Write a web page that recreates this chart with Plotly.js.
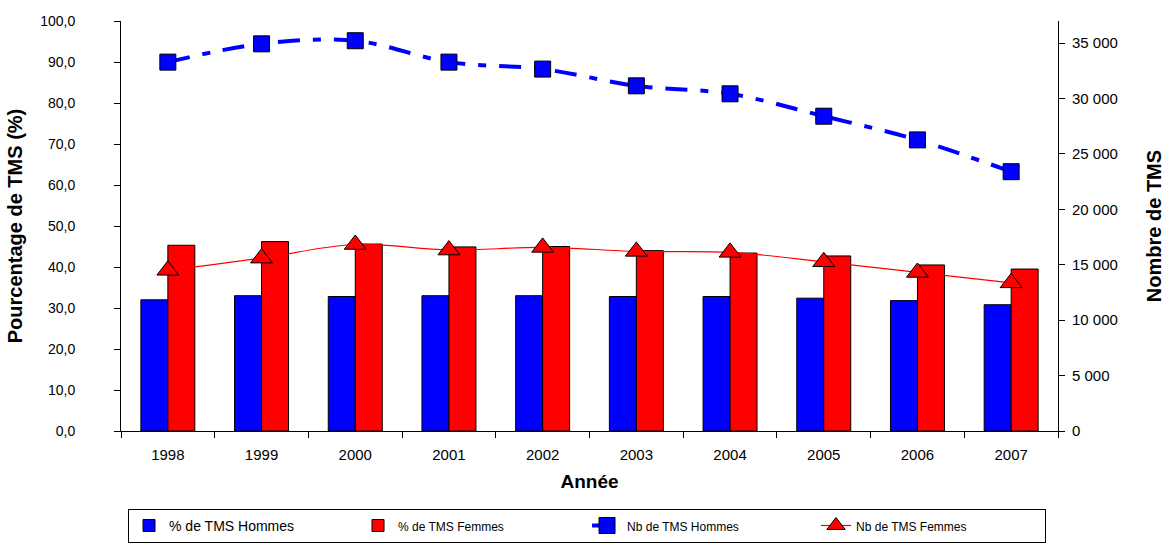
<!DOCTYPE html>
<html>
<head>
<meta charset="utf-8">
<script src="https://cdn.plot.ly/plotly-3.0.1.min.js"></script>
<style>
html,body{margin:0;padding:0;background:#fff;}
#chart{width:1170px;height:545px;}
</style>
</head>
<body>
<div id="chart"></div>
<script>
var years = ['1998','1999','2000','2001','2002','2003','2004','2005','2006','2007'];
var pctHommes = [32.0, 33.0, 32.8, 33.0, 33.0, 32.8, 32.8, 32.4, 31.8, 30.8];
var pctFemmes = [45.3, 46.2, 45.6, 44.9, 45.0, 44.0, 43.4, 42.7, 40.5, 39.5];
var nbHommes = [33290, 34940, 35220, 33290, 32660, 31150, 30430, 28410, 26270, 23400];
var nbFemmes = [14500, 15600, 16830, 16330, 16570, 16210, 16120, 15270, 14310, 13370];

var FONT = 'Liberation Sans, Arial, sans-serif';

var traces = [
  {
    type: 'bar', name: '% de TMS Hommes', x: years, y: pctHommes,
    marker: {color: '#0000FF', line: {color: '#000000', width: 1}},
    yaxis: 'y'
  },
  {
    type: 'bar', name: '<span style="font-size:12px">% de TMS Femmes</span>', x: years, y: pctFemmes,
    marker: {color: '#FF0000', line: {color: '#000000', width: 1}},
    yaxis: 'y'
  },
  {
    type: 'scatter', mode: 'lines+markers', name: '<span style="font-size:12px">Nb de TMS Hommes</span>',
    x: years, y: nbHommes, yaxis: 'y2',
    line: {color: '#0000FF', width: 4, shape: 'spline', smoothing: 1, dash: '22px,13px,8px,13px'},
    marker: {symbol: 'square', size: 16, color: '#0000FF', line: {color: '#000000', width: 1}}
  },
  {
    type: 'scatter', mode: 'lines+markers', name: '<span style="font-size:12px">Nb de TMS Femmes</span>',
    x: years, y: nbFemmes, yaxis: 'y2',
    line: {color: '#FF0000', width: 1.2, shape: 'spline', smoothing: 1},
    marker: {symbol: 'triangle-up', size: 19, color: '#FF0000', line: {color: '#000000', width: 1}}
  }
];

var layout = {
  width: 1170, height: 545,
  margin: {l: 121, r: 112, t: 21, b: 114, pad: 0, autoexpand: false},
  paper_bgcolor: '#ffffff', plot_bgcolor: '#ffffff',
  separators: ', ',
  font: {family: FONT, size: 14, color: '#000000'},
  barmode: 'group', bargap: 0.424, bargroupgap: 0,
  showlegend: true,
  xaxis: {
    type: 'category', range: [-0.5, 9.5], showline: true, linecolor: '#000000', linewidth: 1,
    ticks: 'outside', tickson: 'boundaries', ticklen: 6, tickcolor: '#000000',
    tickfont: {size: 15, family: FONT}, ticklabelstandoff: 10,
    showgrid: false, zeroline: false, automargin: false,
    title: {text: '<b>Année</b>', font: {size: 19, family: FONT}, standoff: 12}
  },
  yaxis: {
    range: [0, 100], dtick: 10, tickformat: '.1f',
    showline: true, linecolor: '#000000', linewidth: 1,
    ticks: 'outside', ticklen: 6, tickcolor: '#000000',
    tickfont: {size: 14, family: FONT}, ticklabelstandoff: 36,
    showgrid: false, zeroline: false, automargin: false,
    title: {text: '<b>Pourcentage de TMS (%)</b>', font: {size: 20, family: FONT}, standoff: 12}
  },
  yaxis2: {
    overlaying: 'y', side: 'right', range: [0, 37000], dtick: 5000, tickformat: ',d',
    showline: true, linecolor: '#000000', linewidth: 1,
    ticks: 'outside', ticklen: 6, tickcolor: '#000000',
    tickfont: {size: 15, family: FONT}, ticklabelstandoff: 4,
    showgrid: false, zeroline: false, automargin: false,
    title: {text: '<b>Nombre de TMS</b>', font: {size: 20, family: FONT}, standoff: 30}
  },
  legend: {
    orientation: 'h', x: 0.0075, xanchor: 'left', y: -0.19, yanchor: 'top',
    bordercolor: '#000000', borderwidth: 1, bgcolor: '#ffffff',
    font: {size: 14, family: FONT}, entrywidth: 184, traceorder: 'normal'
  }
};

Plotly.newPlot('chart', traces, layout, {displayModeBar: false, staticPlot: true});
</script>
</body>
</html>
